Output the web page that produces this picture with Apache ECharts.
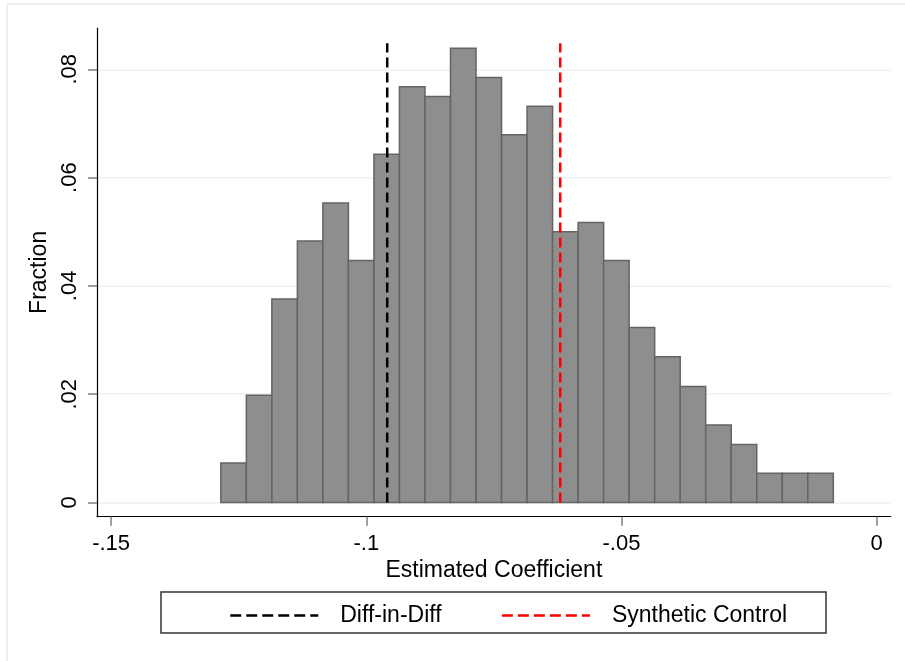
<!DOCTYPE html>
<html><head><meta charset="utf-8">
<script src="https://cdn.jsdelivr.net/npm/echarts@6/dist/echarts.min.js"></script>
<style>html,body{margin:0;padding:0;background:#fff}#c{width:905px;height:661px}</style>
</head><body><div id="c"></div>
<script>
// Histogram bins (left edges) and bar heights (fraction)
const binLeft = [-0.1285,-0.1235,-0.1185,-0.1135,-0.1085,-0.1035,-0.0985,-0.0935,-0.0885,-0.0835,-0.0785,-0.0735,
                 -0.0685,-0.0635,-0.0585,-0.0535,-0.0485,-0.0435,-0.0385,-0.0335,-0.0285,-0.0235,-0.0185,-0.0135];
const binWidth = 0.005;
const fractions = [0.0073,0.0198,0.0376,0.0483,0.0553,0.0447,0.0643,0.0768,0.0750,0.0839,0.0785,0.0679,
                   0.0732,0.0500,0.0517,0.0447,0.0323,0.0269,0.0214,0.0143,0.0107,0.0054,0.0054,0.0054];
// Reference lines
const didCoef = -0.0959;
const scCoef = -0.0620;
const refLineTop = 0.0848;
// Ticks
const xTicks = [-0.15,-0.1,-0.05,0];
const xTickLabels = ['-.15','-.1','-.05','0'];
const yTicks = [0,0.02,0.04,0.06,0.08];
const yTickLabels = ['0','.02','.04','.06','.08'];
const xName = 'Estimated Coefficient';
const yName = 'Fraction';
const seriesNames = ['Diff-in-Diff','Synthetic Control'];

const FONT = "'Liberation Sans', Arial, sans-serif";
const chart = echarts.init(document.getElementById('c'), null, {renderer:'canvas'});
const histData = binLeft.map((l,i)=>[l, l+binWidth, fractions[i]]);
function labelFor(ticks, labels){ return v => { for (let i=0;i<ticks.length;i++){ if (Math.abs(v-ticks[i])<1e-9) return labels[i]; } return ''; }; }

chart.setOption({
  animation:false,
  backgroundColor:'#fff',
  grid:{left:97, right:14.3, top:28, bottom:144.3, containLabel:false},
  xAxis:{
    type:'value', min:-0.15276, max:0.002743,
    name:xName, nameLocation:'middle', nameGap:34,
    nameTextStyle:{fontFamily:FONT, fontSize:23, color:'#000'},
    axisLine:{show:true, onZero:false, lineStyle:{color:'#000', width:1.2}},
    axisTick:{show:true, length:9, customValues:xTicks, lineStyle:{color:'#808080', width:1.5}},
    axisLabel:{customValues:xTicks, formatter:labelFor(xTicks,xTickLabels), margin:16, fontFamily:FONT, fontSize:22, color:'#000'},
    splitLine:{show:false}
  },
  yAxis:{
    type:'value', min:-0.002622, max:0.08763,
    name:yName, nameLocation:'middle', nameGap:40, nameRotate:90,
    nameTextStyle:{fontFamily:FONT, fontSize:23, color:'#000'},
    axisLine:{show:true, onZero:false, lineStyle:{color:'#000', width:1.2}},
    axisTick:{show:true, length:9, customValues:yTicks, lineStyle:{color:'#808080', width:1.5}},
    axisLabel:{customValues:yTicks, formatter:labelFor(yTicks,yTickLabels), rotate:90, margin:16, fontFamily:FONT, fontSize:22, color:'#000'},
    splitLine:{show:true, lineStyle:{color:'#eaf2f3', width:1.5}}
  },
  legend:{
    data:seriesNames, left:229, top:604, padding:0, itemWidth:88, itemHeight:1, itemGap:59,
    itemStyle:{color:'rgba(0,0,0,0)', borderWidth:0},
    textStyle:{fontFamily:FONT, fontSize:23, color:'#000', padding:[0,0,0,17]},
    lineStyle:{type:[11,5], width:2.5}
  },
  graphic:[
    {type:'line', shape:{x1:7,y1:4,x2:905,y2:4}, style:{stroke:'#e6eef0', lineWidth:1.5}, silent:true},
    {type:'line', shape:{x1:7,y1:4,x2:7,y2:661}, style:{stroke:'#e6eef0', lineWidth:1.5}, silent:true},
    {type:'rect', shape:{x:161,y:592,width:665,height:41}, style:{fill:'none', stroke:'#333', lineWidth:1.5}, silent:true}
  ],
  series:[
    {
      type:'custom', name:'hist', data:histData, encode:{x:[0,1], y:2},
      renderItem:function(params, api){
        const p0 = api.coord([api.value(0), api.value(2)]);
        const p1 = api.coord([api.value(1), 0]);
        return {type:'rect', shape:{x:p0[0], y:p0[1], width:p1[0]-p0[0], height:p1[1]-p0[1]},
                style:{fill:'#8e8e8e', stroke:'#646464', lineWidth:1.5}};
      }, z:2
    },
    {type:'line', name:seriesNames[0], data:[[didCoef,0],[didCoef,refLineTop]], symbol:'none',
     lineStyle:{color:'#000', width:2.5, type:[10,5]}, itemStyle:{color:'#000'}, z:3},
    {type:'line', name:seriesNames[1], data:[[scCoef,0],[scCoef,refLineTop]], symbol:'none',
     lineStyle:{color:'#ff0000', width:2.5, type:[10,5]}, itemStyle:{color:'#ff0000'}, z:3}
  ]
});
</script></body></html>
